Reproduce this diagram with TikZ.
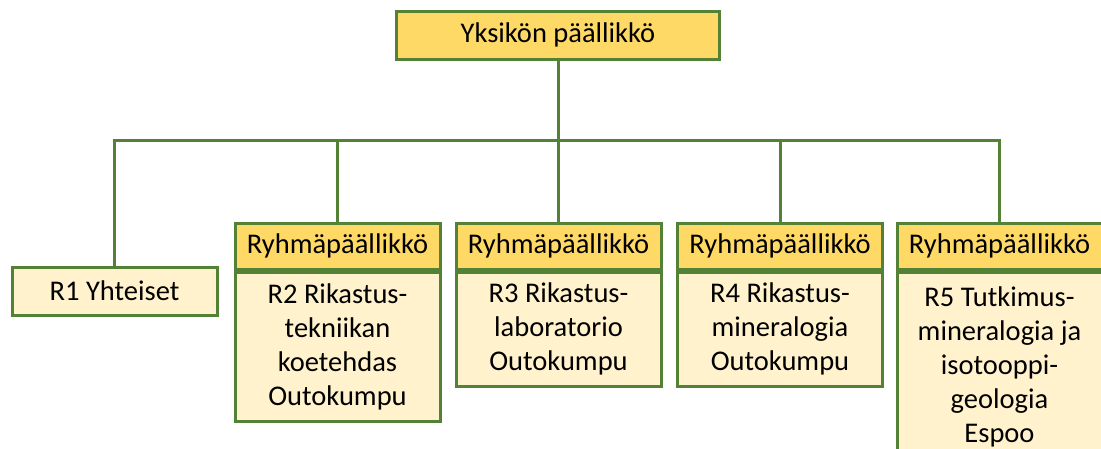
\documentclass[tikz,border=0pt]{standalone}
\usepackage{fontspec}
\setmainfont{Carlito}
\definecolor{orgline}{HTML}{538135}
\definecolor{headfill}{HTML}{FFD966}
\definecolor{bodyfill}{HTML}{FFF2CC}
\tikzset{
  orgbox/.style={draw=orgline, line width=3pt, rectangle, minimum width=205pt,
    inner sep=0pt, align=center, font=\fontsize{28.5}{34}\selectfont},
  headbox/.style={orgbox, fill=headfill, minimum height=46pt},
  bodybox/.style={orgbox, fill=bodyfill},
  link/.style={draw=orgline, line width=3pt}
}
\begin{document}
\begin{tikzpicture}[x=1pt, y=-1pt]
  \path[use as bounding box, clip] (0,0) rectangle (1101,448);
  \node[headbox, minimum width=323pt, minimum height=48pt] (top) at (558,35) {Yksikön päällikkö};
  \node[bodybox, minimum height=48pt] (r1) at (114.5,291) {R1 Yhteiset};
  % ryhmät: otsikko ja sisältö
  \foreach \i/\x/\h/\txt in {2/337.5/149/{R2 Rikastus-\\tekniikan\\koetehdas\\Outokumpu},
      3/558.5/114/{R3 Rikastus-\\laboratorio\\Outokumpu},
      4/780/114/{R4 Rikastus-\\mineralogia\\Outokumpu},
      5/999.5/189/{R5 Tutkimus-\\mineralogia ja\\isotooppi-\\geologia\\Espoo}} {
    \node[headbox] (h\i) at (\x,246) {Ryhmäpäällikkö};
    \node[bodybox, anchor=north, minimum height=\h pt] (b\i) at (h\i.south) {\txt};
  }
  % yhteydet
  \draw[link] (top.south) -- ++(0,80) -| (r1.north);
  \foreach \i in {2,...,5}
    \draw[link] (top.south) -- ++(0,80) -| (h\i.north);
\end{tikzpicture}
\end{document}
